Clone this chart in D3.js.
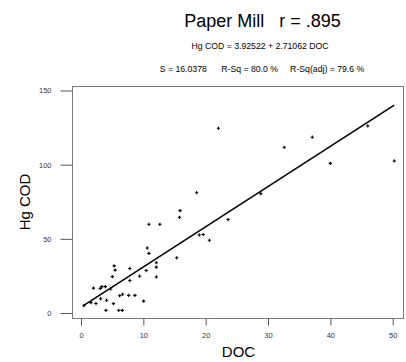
<!DOCTYPE html>
<html>
<head>
<meta charset="utf-8">
<script src="https://cdn.jsdelivr.net/npm/d3@7"></script>
<style>
  html, body { margin: 0; padding: 0; background: #fff; }
  svg { display: block; font-family: "Liberation Sans", Arial, sans-serif; }
  text { white-space: pre; }
</style>
</head>
<body>
<svg id="chart" width="406" height="362"></svg>
<script>
// Dissolved organic carbon (DOC) vs. mercury COD, paper mill samples
const doc = [0.45, 1.6, 2.4, 2.0, 3.1, 3.35, 3.9, 4.75, 3.15, 4.1, 5.2, 4.0, 6.05, 6.63,
             6.2, 6.68, 7.65, 8.65, 10.05, 5.32, 5.47, 5.03, 7.83, 7.83, 9.4, 10.45,
             12.08, 12.08, 12.08, 10.63, 10.9, 10.9, 12.65, 15.35, 15.9, 15.8, 18.55,
             18.97, 19.6, 20.6, 22.05, 23.6, 28.85, 32.6, 37.1, 40.0, 46.0, 50.25];
const hgCod = [4.9, 7.0, 6.4, 16.8, 16.6, 17.8, 17.8, 16.2, 9.6, 8.6, 6.3, 1.8, 1.8, 1.8,
               11.7, 12.6, 11.9, 11.9, 8.0, 31.8, 28.9, 24.5, 30.0, 21.9, 24.8, 28.6,
               33.9, 30.9, 24.3, 43.8, 40.2, 59.8, 59.8, 37.2, 69.0, 64.5, 81.1,
               52.6, 52.9, 49.0, 124.5, 63.0, 80.4, 111.7, 118.5, 100.9, 126.1, 102.5];

const xTicks = [0, 10, 20, 30, 40, 50];
const yTicks = [0, 50, 100, 150];

// Fitted regression: Hg COD = 3.92522 + 2.71062 DOC
const intercept = 3.92522;
const slope = 2.71062;

const titleText = "Paper Mill   r = .895";
const equationText = "Hg COD = 3.92522 + 2.71062 DOC";
const statsText = "S = 16.0378      R-Sq = 80.0 %     R-Sq(adj) = 79.6 %";

const svg = d3.select("#chart");

const frame = { left: 72, top: 86, right: 403, bottom: 318 };

const x = d3.scaleLinear().domain([0, 50]).range([81, 392.7]);
const y = d3.scaleLinear().domain([0, 150]).range([313, 90.5]);

// Plot frame
svg.append("rect")
  .attr("x", frame.left + 0.5).attr("y", frame.top + 0.5)
  .attr("width", frame.right - frame.left).attr("height", frame.bottom - frame.top)
  .attr("fill", "none").attr("stroke", "#7a7a7a").attr("stroke-width", 1);

// X axis
const xAxis = svg.append("g")
  .attr("transform", `translate(0,${frame.bottom + 0.5})`)
  .call(d3.axisBottom(x).tickValues(xTicks).tickSize(7).tickPadding(7).tickSizeOuter(0));
xAxis.select(".domain").remove();
xAxis.selectAll("line").attr("stroke", "#555");
xAxis.selectAll("text").attr("font-size", 7.5).attr("fill", "#333")
  .attr("font-family", "Liberation Sans, Arial, sans-serif");

// Y axis
const yAxis = svg.append("g")
  .attr("transform", `translate(${frame.left + 0.5},0)`)
  .call(d3.axisLeft(y).tickValues(yTicks).tickSize(12).tickPadding(9).tickSizeOuter(0));
yAxis.select(".domain").remove();
yAxis.selectAll("line").attr("stroke", "#555");
yAxis.selectAll("text").attr("font-size", 7.5).attr("fill", "#333")
  .attr("font-family", "Liberation Sans, Arial, sans-serif");

// Regression line across the observed DOC range
const xMin = d3.min(doc), xMax = d3.max(doc);
svg.append("line")
  .attr("x1", x(xMin)).attr("y1", y(intercept + slope * xMin))
  .attr("x2", x(xMax)).attr("y2", y(intercept + slope * xMax))
  .attr("stroke", "#000").attr("stroke-width", 1.6);

// Data points
const cross = d3.symbol().type(d3.symbolCross).size(6);
svg.append("g").selectAll("path")
  .data(doc.map((d, i) => [d, hgCod[i]]))
  .join("path")
  .attr("d", cross)
  .attr("transform", d => `translate(${x(d[0])},${y(d[1])})`)
  .attr("fill", "#000");

// Titles
svg.append("text")
  .attr("x", 262.5).attr("y", 27)
  .attr("text-anchor", "middle").attr("font-size", 18).attr("fill", "#000")
  .text(titleText);

svg.append("text")
  .attr("x", 260).attr("y", 48.5)
  .attr("text-anchor", "middle").attr("font-size", 8.7).attr("fill", "#000")
  .text(equationText);

svg.append("text")
  .attr("x", 262).attr("y", 71.5)
  .attr("text-anchor", "middle").attr("font-size", 8.7).attr("fill", "#000")
  .text(statsText);

// Axis titles
svg.append("text")
  .attr("x", 238.5).attr("y", 357)
  .attr("text-anchor", "middle").attr("font-size", 15).attr("fill", "#000")
  .text("DOC");

svg.append("text")
  .attr("transform", "translate(30,202) rotate(-90)")
  .attr("text-anchor", "middle").attr("font-size", 15).attr("fill", "#000")
  .text("Hg COD");
</script>
</body>
</html>
